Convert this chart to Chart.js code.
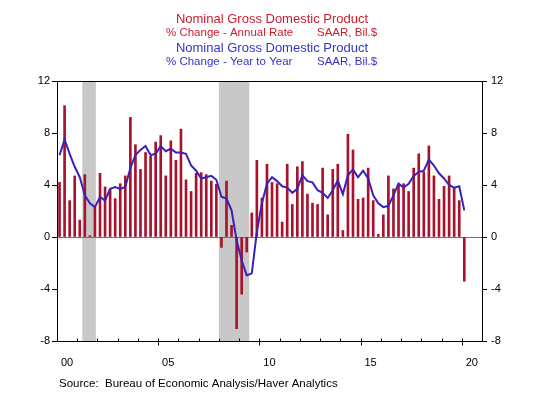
<!DOCTYPE html>
<html>
<head>
<meta charset="utf-8">
<script src="https://cdn.jsdelivr.net/npm/chart.js@4"></script>
<style>
  body { margin: 0; background: #fff; }
  #wrap { width: 540px; height: 393px; }
</style>
</head>
<body>
<div id="wrap"><canvas id="gdpChart" width="540" height="393"></canvas></div>
<script>
// Nominal GDP, quarterly 2000Q1 - 2020Q1
const firstYear = 2000;
const quarters = [];
for (let yr = 2000; yr <= 2020; yr++) {
    for (let q = 1; q <= 4; q++) quarters.push(yr + 'Q' + q);
}
quarters.length = 81;

// % change, annual rate (bars)
const annualRate = [
    4.2, 10.1, 2.8, 4.7,
    1.3, 4.8, 0.1, 2.3,
    4.9, 3.85, 3.7, 2.95,
    4.1, 4.7, 9.2, 7.1,
    5.2, 6.5, 6.2, 7.3,
    7.8, 4.7, 7.4, 5.9,
    8.3, 4.4, 3.5, 4.9,
    4.95, 4.8, 4.3, 4.05,
    -0.8, 4.3, 0.9, -7.05,
    -4.4, -1.15, 1.85, 5.9,
    3.0, 5.6, 4.2, 4.1,
    1.15, 5.6, 2.5, 5.4,
    5.8, 3.3, 2.6, 2.5,
    5.3, 1.7, 5.2, 5.6,
    0.5, 7.9, 6.7, 2.9,
    3.0, 5.3, 2.8, 0.2,
    1.7, 4.7, 3.7, 4.0,
    4.1, 3.5, 5.3, 6.4,
    5.0, 7.0, 4.7, 2.9,
    3.9, 4.7, 3.8, 2.8,
    -3.4
];

// % change, year to year (line)
const yearToYear = [
    6.3, 7.5, 6.4, 5.4,
    4.6, 3.2, 2.6, 2.3,
    3.1, 2.8, 3.7, 3.85,
    3.7, 3.85, 5.3, 6.3,
    6.7, 7.0, 6.3, 6.4,
    7.0, 6.6, 6.8, 6.5,
    6.5, 6.4, 5.5, 5.1,
    4.5, 4.6, 4.7, 4.4,
    3.1, 2.95, 2.05, -0.25,
    -1.8, -2.95, -2.8, 0.4,
    2.6, 4.1, 4.6, 4.3,
    3.9, 3.8, 3.4, 3.7,
    4.75, 4.3, 4.2, 3.6,
    3.4, 3.0, 3.6, 4.35,
    3.3, 4.75, 5.2, 4.6,
    5.1, 4.5, 3.2, 2.6,
    2.3, 2.4, 3.2, 4.1,
    3.8, 4.1, 4.7, 5.0,
    5.1, 5.95, 5.5, 4.9,
    4.5, 4.0, 3.8, 3.9,
    2.05
];

// recession periods (shaded), in fractional years
const recessions = [[2001.25, 2001.92], [2008.0, 2009.5]];
const yTicks = [-8, -4, 0, 4, 8, 12];

const FONT = 'Liberation Sans, Arial, sans-serif';

function quarterToX(label) {
    const yr = parseInt(label.slice(0, 4));
    const q = parseInt(label.slice(5));
    return yr + (q - 0.5) / 4;
}

const barPoints = quarters.map((lab, i) => ({ x: quarterToX(lab), y: annualRate[i] }));
const linePoints = quarters.map((lab, i) => ({ x: quarterToX(lab), y: yearToYear[i] }));

const decor = {
    id: 'decor',
    beforeDatasetsDraw(chart) {
        const { ctx, chartArea: a, scales: { x, y } } = chart;
        ctx.save();
        ctx.fillStyle = '#c8c8c8';
        recessions.forEach(([s, e]) => {
            const x0 = x.getPixelForValue(s);
            const x1 = x.getPixelForValue(e);
            ctx.fillRect(x0, a.top, x1 - x0, a.bottom - a.top);
        });
        // zero line
        const y0 = Math.round(y.getPixelForValue(0)) + 0.5;
        ctx.strokeStyle = '#707070';
        ctx.lineWidth = 1;
        ctx.beginPath();
        ctx.moveTo(a.left, y0);
        ctx.lineTo(a.right, y0);
        ctx.stroke();
        ctx.restore();
    },
    afterDraw(chart) {
        const { ctx, chartArea: a, scales: { x } } = chart;
        ctx.save();
        // frame
        ctx.strokeStyle = '#000';
        ctx.lineWidth = 1;
        ctx.strokeRect(Math.round(a.left) + 0.5, Math.round(a.top) + 0.5,
            Math.round(a.right - a.left), Math.round(a.bottom - a.top));
        // year ticks on the x axis
        const yb = Math.round(a.bottom) + 0.5;
        ctx.beginPath();
        for (let yr = firstYear + 1; yr <= 2020; yr++) {
            const px = Math.round(x.getPixelForValue(yr)) + 0.5;
            ctx.moveTo(px, yb - 3);
            ctx.lineTo(px, yr % 5 === 0 ? yb + 4 : yb);
        }
        ctx.stroke();

        // titles
        const cx = 272;
        ctx.textBaseline = 'middle';
        ctx.textAlign = 'center';
        ctx.font = '13px ' + FONT;
        ctx.fillStyle = '#cc1c2c';
        ctx.fillText('Nominal Gross Domestic Product', cx, 19);
        ctx.fillStyle = '#3434c4';
        ctx.fillText('Nominal Gross Domestic Product', cx, 48);

        ctx.font = '11.5px ' + FONT;
        ctx.textAlign = 'left';
        ctx.fillStyle = '#cc1c2c';
        ctx.fillText('% Change - Annual Rate', 166, 32.5);
        ctx.fillText('SAAR, Bil.$', 317, 32.5);
        ctx.fillStyle = '#3434c4';
        ctx.fillText('% Change - Year to Year', 166, 62);
        ctx.fillText('SAAR, Bil.$', 317, 62);

        // source
        ctx.fillStyle = '#000';
        ctx.font = '11.5px ' + FONT;
        ctx.fillText('Source:  Bureau of Economic Analysis/Haver Analytics', 59, 384);
        ctx.restore();
    }
};

const tickFont = { family: FONT, size: 11 };

new Chart(document.getElementById('gdpChart'), {
    type: 'bar',
    data: {
        datasets: [
            {
                type: 'line',
                label: 'Year to Year',
                data: linePoints,
                borderColor: '#3a22b8',
                borderWidth: 2,
                pointRadius: 0,
                tension: 0,
                yAxisID: 'y',
                order: 0
            },
            {
                label: 'Annual Rate',
                data: barPoints,
                backgroundColor: '#a8122c',
                barThickness: 2,
                yAxisID: 'y',
                order: 1
            }
        ]
    },
    options: {
        responsive: false,
        animation: false,
        devicePixelRatio: 1,
        layout: { padding: { left: 10, right: 10, top: 81, bottom: 12 } },
        plugins: { legend: { display: false }, tooltip: { enabled: false } },
        scales: {
            x: {
                type: 'linear',
                offset: false,
                min: 2000,
                max: 2021,
                grid: { display: false, drawTicks: false, offset: false },
                border: { display: false },
                ticks: {
                    stepSize: 1,
                    autoSkip: false,
                    maxRotation: 0,
                    labelOffset: 10,
                    padding: 15,
                    font: tickFont,
                    color: '#000',
                    callback: v => (v % 5 === 0 && v < 2021) ? String(v).slice(2) : ''
                },
                afterFit: s => { s.height = 40; }
            },
            y: {
                position: 'left',
                min: -8,
                max: 12,
                afterBuildTicks: s => { s.ticks = yTicks.map(v => ({ value: v })); },
                grid: { drawOnChartArea: false, tickLength: 5, color: '#000' },
                border: { color: '#000' },
                ticks: { padding: 2, font: tickFont, color: '#000' },
                afterFit: s => { s.width = 47; }
            },
            y2: {
                position: 'right',
                min: -8,
                max: 12,
                afterBuildTicks: s => { s.ticks = yTicks.map(v => ({ value: v })); },
                grid: { drawOnChartArea: false, tickLength: 5, color: '#000' },
                border: { color: '#000' },
                ticks: { padding: 4, font: tickFont, color: '#000' },
                afterFit: s => { s.width = 48; }
            }
        }
    },
    plugins: [decor]
});
</script>
</body>
</html>
